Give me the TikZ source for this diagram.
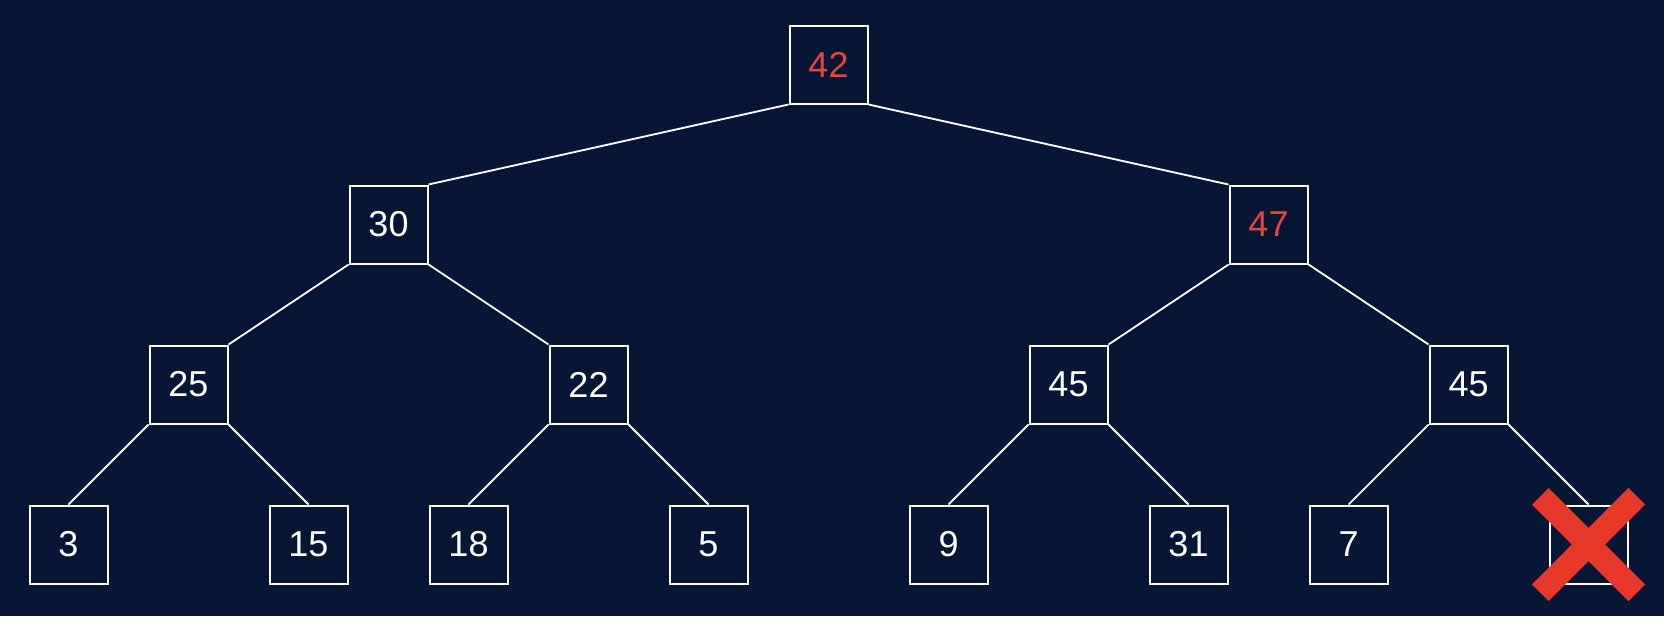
\documentclass[tikz,border=0pt]{standalone}
\usepackage{fontspec}
\setmainfont{Liberation Sans}
\usetikzlibrary{positioning,shapes.misc}
\definecolor{navy}{HTML}{071635}
\definecolor{hot}{HTML}{E8453C}
\definecolor{crossred}{HTML}{E8382A}

\begin{document}
\begin{tikzpicture}[
    x=1pt, y=-1pt,
    font=\fontsize{36}{42}\selectfont,
    box/.style     = {rectangle, draw=white, line width=2pt, text=white,
                      minimum size=78pt, inner sep=0pt},
    hotbox/.style  = {box, text=hot},
    link/.style    = {draw=white, line width=1.8pt},
    strike/.style  = {cross out, draw=crossred, line width=23.5pt,
                      minimum size=73pt, inner sep=0pt}
]

% --- Background --------------------------------------------------------------
\fill[navy] (0,0) rectangle (1664,616);
\useasboundingbox (0,0) rectangle (1664,616);

% --- Levels (top to bottom) --------------------------------------------------
\node[hotbox] (root) at (828.5,64.5)  {42};

\node[box]    (n30)  at (388.5,224.5) {30};
\node[hotbox] (n47)  at (1268.5,224.5) {47};

\node[box]    (n25)  at (188.5,384.5) {25};
\node[box]    (n22)  at (588.5,384.5) {22};
\node[box]    (n45a) at (1068.5,384.5) {45};
\node[box]    (n45b) at (1468.5,384.5) {45};

\node[box]    (n3)   at (68.5,544.5)   {3};
\node[box]    (n15)  at (308.5,544.5)  {15};
\node[box]    (n18)  at (468.5,544.5)  {18};
\node[box]    (n5)   at (708.5,544.5)  {5};
\node[box]    (n9)   at (948.5,544.5)  {9};
\node[box]    (n31)  at (1188.5,544.5) {31};
\node[box]    (n7)   at (1348.5,544.5) {7};
\node[box]    (gone) at (1588.5,544.5) {};

% --- Links -------------------------------------------------------------------
\draw[link] (root.south west) -- (n30.north east);
\draw[link] (root.south east) -- (n47.north west);

\draw[link] (n30.south west)  -- (n25.north east);
\draw[link] (n30.south east)  -- (n22.north west);
\draw[link] (n47.south west)  -- (n45a.north east);
\draw[link] (n47.south east)  -- (n45b.north west);

\draw[link] (n25.south west)  -- (n3.north);
\draw[link] (n25.south east)  -- (n15.north);
\draw[link] (n22.south west)  -- (n18.north);
\draw[link] (n22.south east)  -- (n5.north);
\draw[link] (n45a.south west) -- (n9.north);
\draw[link] (n45a.south east) -- (n31.north);
\draw[link] (n45b.south west) -- (n7.north);
\draw[link] (n45b.south east) -- (gone.north);

% --- Removed leaf ------------------------------------------------------------
\node[strike] (cross) at (gone) {};

\end{tikzpicture}
\end{document}
